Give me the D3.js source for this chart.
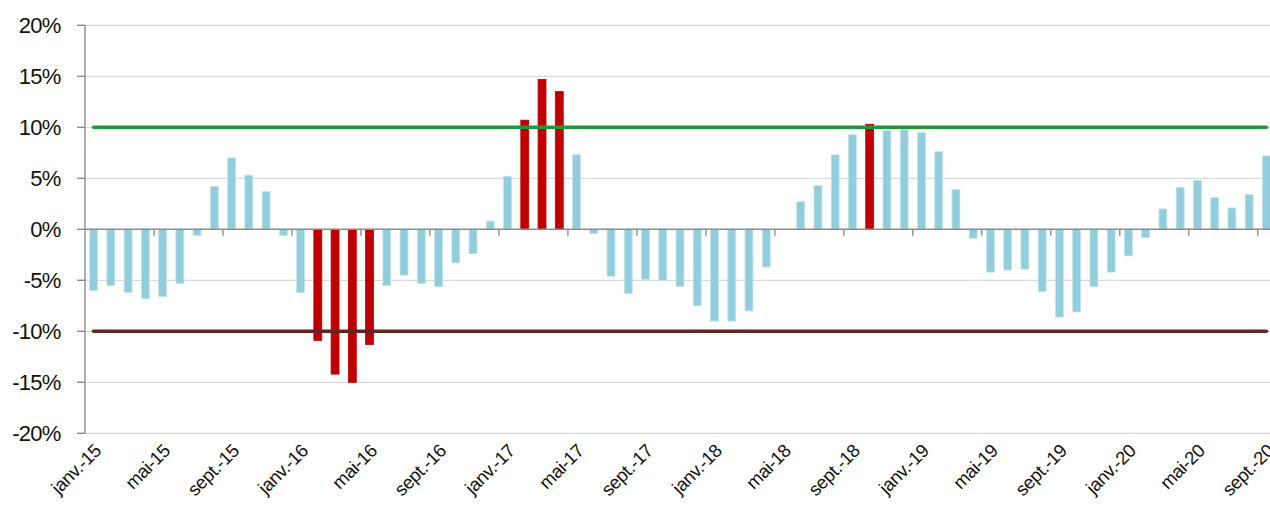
<!DOCTYPE html>
<html>
<head>
<meta charset="utf-8">
<script src="https://cdn.jsdelivr.net/npm/d3@7"></script>
<style>
  body { margin: 0; background: #fff; }
  svg { display: block; font-family: "Liberation Sans", Arial, sans-serif; }
</style>
</head>
<body>
<div id="chart"></div>
<script>

// 1. Data

const months = ["janv.", "févr.", "mars", "avr.", "mai", "juin", "juil.", "août", "sept.", "oct.", "nov.", "déc."]
const years = ["15", "16", "17", "18", "19", "20"]

// monthly change, janv.-15 to sept.-20 (%)
const values = [
  -6.0, -5.5, -6.2, -6.8, -6.6, -5.3, -0.6, 4.2, 7.0, 5.3, 3.7, -0.6,
  -6.2, -10.9, -14.2, -15.0, -11.3, -5.5, -4.5, -5.3, -5.6, -3.3, -2.4, 0.8,
  5.2, 10.7, 14.7, 13.5, 7.3, -0.4, -4.6, -6.3, -4.9, -5.0, -5.6, -7.5,
  -9.0, -9.0, -8.0, -3.7, 0.0, 2.7, 4.3, 7.3, 9.3, 10.3, 9.7, 9.8,
  9.5, 7.6, 3.9, -0.9, -4.2, -4.0, -3.9, -6.1, -8.6, -8.1, -5.6, -4.2,
  -2.6, -0.8, 2.0, 4.1, 4.8, 3.1, 2.1, 3.4, 7.2
]

const upperBand = 10
const lowerBand = -10
const yTicks = [-20, -15, -10, -5, 0, 5, 10, 15, 20]

const labels = values.map((d, i) => `${months[i % 12]}-${years[Math.floor(i / 12)]}`)

// 2. Dimensions

let dimensions = {
  width: 1270,
  height: 505,
  margin: { top: 25.3, right: -5, bottom: 71.7, left: 85 },
}
dimensions.boundedWidth = dimensions.width - dimensions.margin.left - dimensions.margin.right
dimensions.boundedHeight = dimensions.height - dimensions.margin.top - dimensions.margin.bottom

// 3. Canvas

const svg = d3.select("#chart")
  .append("svg")
    .attr("width", dimensions.width)
    .attr("height", dimensions.height)

const bounds = svg.append("g")
    .attr("transform", `translate(${dimensions.margin.left},${dimensions.margin.top})`)

// 4. Scales

const xScale = d3.scaleBand()
    .domain(d3.range(values.length))
    .range([0, dimensions.boundedWidth])
    .paddingInner(0.54)
    .paddingOuter(0.27)

const yScale = d3.scaleLinear()
    .domain([-20, 20])
    .range([dimensions.boundedHeight, 0])

const center = i => xScale(i) + xScale.bandwidth() / 2
const step = xScale.step()

// 5. Gridlines

const visibleRight = dimensions.width - dimensions.margin.left

bounds.append("g")
  .selectAll("line")
  .data(yTicks.filter(d => d != 0))
  .join("line")
    .attr("x1", 0)
    .attr("x2", visibleRight)
    .attr("y1", d => yScale(d))
    .attr("y2", d => yScale(d))
    .attr("stroke", "#d9d9d9")
    .attr("stroke-width", 1.3)

// 6. Bars

const isOut = d => d > upperBand || d < lowerBand

bounds.append("g")
  .selectAll("rect")
  .data(values)
  .join("rect")
    .attr("x", (d, i) => xScale(i))
    .attr("width", xScale.bandwidth())
    .attr("y", d => yScale(Math.max(0, d)))
    .attr("height", d => Math.abs(yScale(d) - yScale(0)))
    .attr("fill", d => isOut(d) ? "#c00000" : "#92cddc")
    .attr("stroke", d => isOut(d) ? "#c00000" : "#c3e4ee")
    .attr("stroke-width", 0.8)

// threshold lines
const line = d3.line()
    .x(d => center(d[0]))
    .y(d => yScale(d[1]))

const bandLines = [
  { value: lowerBand, color: "#632523" },
  { value: upperBand, color: "#1f9a38" },
]

bounds.selectAll(".band-line")
  .data(bandLines)
  .join("path")
    .attr("class", "band-line")
    .attr("d", b => line(values.map((d, i) => [i, b.value])))
    .attr("fill", "none")
    .attr("stroke", b => b.color)
    .attr("stroke-width", 3.6)
    .attr("stroke-linecap", "round")

// 7. Axes

const axisColor = "#8c8c8c"

// y axis
bounds.append("line")
    .attr("x1", 0).attr("x2", 0)
    .attr("y1", yScale(20)).attr("y2", yScale(-20))
    .attr("stroke", axisColor)
    .attr("stroke-width", 1.4)

bounds.append("g")
  .selectAll("line")
  .data(yTicks)
  .join("line")
    .attr("x1", -8).attr("x2", 0)
    .attr("y1", d => yScale(d)).attr("y2", d => yScale(d))
    .attr("stroke", axisColor)
    .attr("stroke-width", 1.4)

bounds.append("g")
  .selectAll("text")
  .data(yTicks)
  .join("text")
    .attr("x", -24.5)
    .attr("y", d => yScale(d))
    .attr("dy", "0.36em")
    .attr("text-anchor", "end")
    .attr("font-size", 22)
    .attr("letter-spacing", -0.8)
    .attr("fill", "#111")
    .text(d => `${d}%`)

// x axis at zero
bounds.append("line")
    .attr("x1", 0).attr("x2", visibleRight)
    .attr("y1", yScale(0)).attr("y2", yScale(0))
    .attr("stroke", axisColor)
    .attr("stroke-width", 1.6)

const tickIdx = d3.range(4, values.length, 4)

bounds.append("g")
  .selectAll("line")
  .data(tickIdx)
  .join("line")
    .attr("x1", i => xScale(i) - step * xScale.paddingInner() / 2)
    .attr("x2", i => xScale(i) - step * xScale.paddingInner() / 2)
    .attr("y1", yScale(0))
    .attr("y2", yScale(0) + 6.5)
    .attr("stroke", axisColor)
    .attr("stroke-width", 1.4)

const labelIdx = d3.range(0, values.length, 4)

bounds.append("g")
  .selectAll("text")
  .data(labelIdx)
  .join("text")
    .attr("transform", i => `translate(${center(i) + 4},${yScale(-20) + 14}) rotate(-45)`)
    .attr("text-anchor", "end")
    .attr("dy", "0.35em")
    .attr("font-size", 18.5)
    .attr("letter-spacing", -0.4)
    .attr("fill", "#111")
    .text(i => labels[i])

</script>
</body>
</html>
